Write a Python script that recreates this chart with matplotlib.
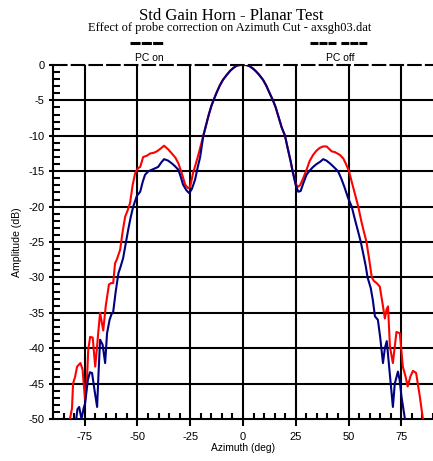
import matplotlib
matplotlib.use("Agg")
import matplotlib.pyplot as plt
from matplotlib.lines import Line2D
from matplotlib.ticker import MultipleLocator

# azimuth (deg) / amplitude (dB)
az_off = [-82.0, -81.0, -80.5, -79.5, -78.6, -77.0, -76.0, -74.8, -74.0, -73.3,
          -72.4, -71.2, -70.0, -69.2, -68.6, -67.7, -66.2, -65.0, -63.5, -62.5,
          -61.5, -60.6, -59.8, -58.2, -57.0, -55.8, -54.6, -53.5, -52.3, -51.1,
          -49.8, -48.7, -47.3, -45.5, -44.0, -42.3, -40.8, -39.0, -37.4, -35.5,
          -33.7, -32.0, -30.6, -29.0, -27.4, -26.0, -25.0, -23.7, -22.2, -20.8,
          -18.8, -17.5, -16.2, -15.0, -14.0, -12.5, -11.0, -9.5, -7.7, -6.0,
          -4.5, -3.0, -1.5, 0.0, 1.5, 3.0, 4.5, 6.0, 7.7, 9.5,
          11.0, 12.5, 14.2, 15.5, 16.8, 18.3, 19.9, 21.2, 22.5, 23.5,
          25.0, 26.0, 27.0, 28.5, 30.1, 31.5, 33.2, 34.8, 36.4, 38.0,
          39.6, 41.0, 42.0, 43.5, 45.9, 47.5, 48.8, 50.2, 51.5, 53.0,
          54.6, 56.0, 57.3, 58.5, 59.8, 61.0, 62.0, 63.3, 64.8, 66.0,
          67.2, 68.0, 68.7, 69.6, 71.0, 71.8, 72.7, 74.3, 75.7, 77.0,
          78.0, 79.3, 80.5, 82.0, 83.8, 85.2]
db_off = [-50.0, -48.5, -45.0, -44.0, -42.6, -42.1, -43.0, -47.3, -45.0, -40.2,
          -38.4, -38.5, -42.6, -40.0, -37.9, -35.0, -37.5, -34.0, -31.0, -30.8,
          -30.8, -28.0, -27.5, -26.1, -23.5, -21.4, -20.5, -19.5, -17.0, -15.3,
          -14.6, -14.4, -13.0, -12.8, -12.5, -12.4, -12.2, -11.8, -11.4, -11.9,
          -12.5, -13.1, -13.9, -15.3, -16.9, -17.4, -17.2, -15.3, -13.8, -12.3,
          -10.0, -8.5, -7.0, -5.8, -5.0, -3.9, -2.9, -2.1, -1.4, -0.8,
          -0.4, -0.1, 0.0, 0.0, 0.0, -0.15, -0.45, -0.85, -1.4, -2.1,
          -2.9, -3.9, -5.0, -6.0, -7.3, -8.8, -10.0, -11.8, -13.5, -15.0,
          -16.8, -17.2, -17.0, -16.0, -14.8, -13.6, -12.7, -12.1, -11.7, -11.5,
          -11.5, -11.9, -12.2, -12.3, -12.7, -13.2, -14.0, -15.0, -16.5, -18.2,
          -20.0, -22.0, -23.6, -25.0, -27.5, -30.0, -30.5, -30.8, -31.3, -33.5,
          -35.8, -34.5, -34.1, -39.8, -42.1, -40.0, -37.7, -37.9, -42.6, -44.0,
          -45.4, -44.0, -43.2, -43.5, -46.9, -50.0]

az_on = [-79.0, -78.4, -77.6, -76.5, -75.5, -74.8, -73.5, -72.5, -71.5, -70.3,
         -69.1, -68.5, -67.7, -66.5, -65.3, -64.4, -63.2, -62.3, -61.5, -60.3,
         -59.0, -58.0, -56.8, -55.6, -54.4, -53.2, -52.0, -50.3, -48.7, -47.5,
         -46.4, -44.8, -43.2, -41.7, -40.2, -38.8, -37.4, -35.5, -33.7, -32.2,
         -30.6, -29.5, -28.4, -26.8, -25.5, -24.2, -22.7, -21.5, -20.3,
         -18.8, -17.5, -16.2, -15.0, -14.0, -12.5, -11.0, -9.5, -7.7, -6.0,
         -4.5, -3.0, -1.5, 0.0, 1.5, 3.0, 4.5, 6.0, 7.7, 9.5,
         11.0, 12.5, 14.2, 15.5, 16.8, 18.3, 19.9, 21.2, 22.5, 23.5,
         25.0, 26.2, 27.3, 28.7, 30.1, 31.6, 33.2, 34.8, 36.4, 38.0,
         39.5, 41.2, 43.0, 45.0, 46.5, 48.0, 49.8, 51.5, 53.0, 54.5,
         55.8, 57.2, 58.2, 59.0, 60.5, 61.5, 62.5, 63.9, 65.0, 66.3,
         67.2, 68.1, 69.5, 71.0, 71.9, 73.4, 74.2, 75.1, 76.7]
db_on = [-50.0, -48.6, -48.3, -50.0, -48.5, -47.8, -44.5, -43.4, -43.5, -46.0,
         -48.3, -44.0, -38.8, -39.5, -42.1, -37.9, -36.0, -35.2, -34.9, -32.0,
         -29.4, -28.5, -27.3, -25.3, -23.3, -21.5, -20.0, -18.5, -17.9, -16.5,
         -15.5, -15.0, -14.8, -14.6, -14.4, -13.8, -13.3, -13.5, -13.9, -14.3,
         -14.8, -15.8, -16.9, -17.7, -18.1, -17.5, -16.2, -14.5, -13.0,
         -10.0, -8.5, -7.0, -5.8, -5.0, -3.9, -2.9, -2.1, -1.4, -0.8,
         -0.4, -0.1, 0.0, 0.0, 0.0, -0.15, -0.45, -0.85, -1.4, -2.1,
         -2.9, -3.9, -5.0, -6.0, -7.3, -8.8, -10.0, -11.8, -13.5, -15.0,
         -17.0, -17.9, -17.8, -16.6, -15.5, -14.9, -14.4, -14.0, -13.7, -13.3,
         -13.5, -13.9, -14.4, -15.0, -16.0, -17.2, -18.8, -20.0, -21.8, -23.5,
         -25.0, -27.0, -28.5, -30.0, -31.5, -33.2, -35.5, -36.0, -38.5, -42.1,
         -40.0, -39.0, -43.5, -48.3, -45.0, -43.3, -44.5, -46.9, -50.0]

xticks = [-75, -50, -25, 0, 25, 50, 75]
yticks = [0, -5, -10, -15, -20, -25, -30, -35, -40, -45, -50]

sans = "Liberation Sans"
serif = "Liberation Serif"

fig = plt.figure(figsize=(4.33, 4.61), dpi=100)
ax = fig.add_axes([53 / 433, 1 - 419 / 461, 380 / 433, 354 / 461])

for y in yticks[1:-1]:
    ax.axhline(y, color="black", lw=1.5, zorder=1)
ax.axhline(0, color="black", lw=1.5, ls=(0, (7, 1.5)), zorder=1, clip_on=False)
for x in xticks:
    ax.axvline(x, color="black", lw=1.5, zorder=1)

ax.plot(az_off, db_off, color="#ff0000", lw=1.5, zorder=3)
ax.plot(az_on, db_on, color="#000080", lw=1.5, zorder=4)

ax.set_xlim(-90, 90)
ax.set_ylim(-50, 0)
ax.set_xticks(xticks)
ax.set_yticks(yticks)
ax.set_xticklabels([str(v) for v in xticks], family=sans, fontsize=8)
ax.set_yticklabels([str(v) for v in yticks], family=sans, fontsize=8)
ax.xaxis.set_minor_locator(MultipleLocator(5))
ax.yaxis.set_minor_locator(MultipleLocator(1))
ax.tick_params(axis="x", which="major", direction="out", length=5, width=1.5, pad=4)
ax.tick_params(axis="x", which="minor", direction="in", length=4.5, width=1.5)
ax.tick_params(axis="y", which="major", direction="out", length=3, width=1.5, pad=3)
ax.tick_params(axis="y", which="minor", direction="in", length=5, width=1.5)

for s in ["top", "right"]:
    ax.spines[s].set_visible(False)
for s in ["left", "bottom"]:
    ax.spines[s].set_linewidth(1.5)

ax.set_xlabel("Azimuth (deg)", family=sans, fontsize=7.4, labelpad=1)
ax.set_ylabel("Amplitude (dB)", family=sans, fontsize=7.6, labelpad=5)

fig.text(231 / 433, 1 - 19.5 / 461, "Std Gain Horn - Planar Test", family=serif,
         fontsize=12, ha="center", va="baseline")
fig.text(230 / 433, 1 - 31.5 / 461, "Effect of probe correction on Azimuth Cut - axsgh03.dat",
         family=serif, fontsize=9, ha="center", va="baseline")

# legend samples
fig.add_artist(Line2D([130 / 433, 163 / 433], [1 - 43 / 461] * 2, color="black",
                      lw=2.2, ls=(0, (3.3, 0.4))))
fig.add_artist(Line2D([310 / 433, 367 / 433], [1 - 43 / 461] * 2, color="black",
                      lw=2.2, ls=(0, (2.6, 0.35, 2.6, 0.35, 2.6, 1.6))))
fig.text(149 / 433, 1 - 58 / 461, "PC on", family=sans, fontsize=7.5, ha="center", va="center")
fig.text(340 / 433, 1 - 58 / 461, "PC off", family=sans, fontsize=7.5, ha="center", va="center")

fig.savefig("out.png", dpi=100)
